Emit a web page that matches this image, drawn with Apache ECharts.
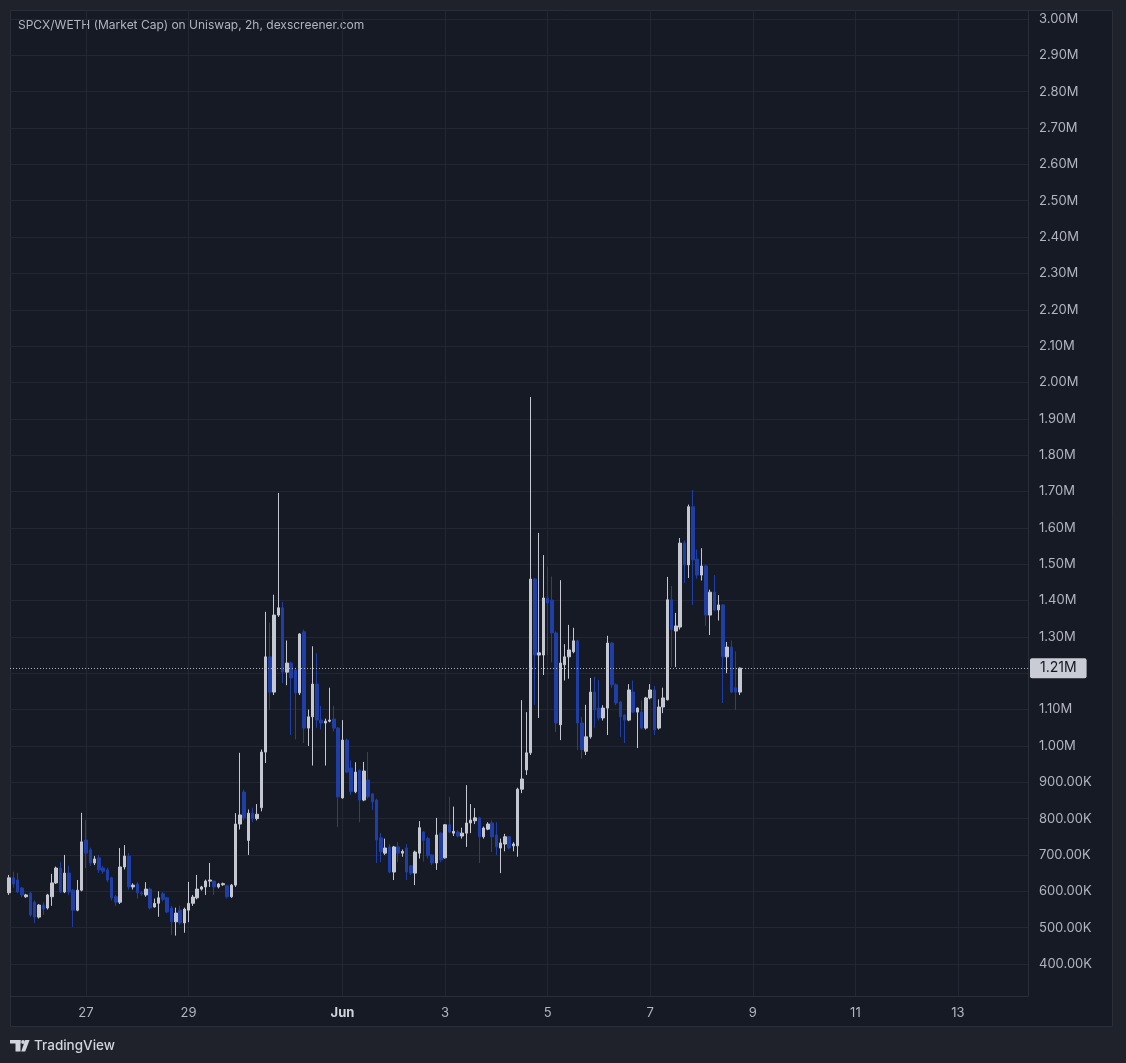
<!DOCTYPE html>
<html>
<head>
<meta charset="utf-8">
<script src="https://cdn.jsdelivr.net/npm/echarts@6/dist/echarts.min.js"></script>
<style>
html,body{margin:0;padding:0;background:#1f222b;}
#chart{width:1126px;height:1063px;}
</style>
</head>
<body>
<div id="chart"></div>
<script>
// ---- Data (market cap in thousands USD), 2h candles ----
const chartTitle = 'SPCX/WETH (Market Cap) on Uniswap, 2h, dexscreener.com';
const firstCandleDay = 25.5;      // May 25, 12:00 on a "day of May" scale (Jun 1 = 32)
const candleStepDays = 2 / 24;    // 2h candles

const opensK = [
  596,637,631,609,585,595,570,529,562,554,
  585,623,664,598,650,603,548,603,741,714,
  678,692,664,659,637,585,570,667,697,612,
  620,596,590,606,557,567,593,582,554,516,
  548,513,548,567,582,606,612,628,628,612,
  618,615,585,617,785,873,740,815,800,830,
  983,1245,1148,1360,1380,1203,1228,1209,1146,1314,
  1049,1080,1170,1071,1063,1068,1074,1049,857,1016,
  939,874,933,851,906,868,851,747,705,722,
  653,722,705,719,670,650,705,763,745,700,
  678,760,692,783,760,763,752,760,788,794,
  802,750,771,788,755,719,730,750,725,725,
  881,934,981,1459,1250,1250,1407,1401,1311,1058,
  1223,1245,1259,1289,1063,985,1025,1148,1104,1077,
  1104,1283,1168,1121,1085,1071,1148,1093,1093,1049,
  1132,1154,1049,1107,1127,1402,1316,1327,1558,1498,
  1658,1514,1470,1495,1360,1423,1374,1388,1245,1272,
  1160,1148
];
const closesK = [
  637,620,598,590,590,535,529,562,551,590,
  623,664,598,650,598,548,603,736,705,678,
  689,659,655,631,582,570,667,697,612,617,
  596,593,606,554,567,582,578,543,516,540,
  513,551,567,584,606,612,628,631,612,620,
  621,585,617,785,810,802,815,800,812,983,
  1245,1148,1360,1380,1203,1228,1187,1146,1308,1049,
  1080,1170,1071,1063,1068,1071,1049,860,1016,928,
  874,928,851,931,860,846,741,709,719,653,
  722,705,710,653,650,708,775,740,698,678,
  755,686,783,763,765,752,760,788,796,802,
  750,774,785,750,722,733,750,719,730,881,
  909,981,1459,1250,1256,1407,1393,1311,1063,1228,
  1245,1264,1289,1063,990,1025,1148,1099,1077,1104,
  1283,1168,1118,1080,1071,1154,1093,1104,1049,1132,
  1154,1044,1107,1132,1402,1320,1330,1558,1498,1658,
  1512,1470,1495,1360,1423,1374,1388,1245,1272,1148,
  1148,1214
];
const lowsK = [
  590,610,596,584,582,530,513,525,535,550,
  560,620,595,595,590,502,545,600,664,670,
  672,650,648,625,575,560,565,660,605,605,
  580,588,585,550,555,530,572,540,480,478,
  508,486,515,560,578,602,590,612,590,608,
  615,580,582,612,770,795,700,790,795,820,
  953,1100,1140,1355,1173,1167,1030,1018,1140,1008,
  1000,946,1050,1045,946,1065,1040,777,855,925,
  865,870,790,848,855,824,678,680,700,650,
  631,680,695,631,645,617,690,682,690,672,
  659,680,690,760,752,748,745,722,760,785,
  678,745,768,708,700,650,710,715,710,695,
  870,920,975,1113,1077,1195,1250,1230,1038,1016,
  1180,1185,1255,989,965,975,1020,1050,1070,1070,
  1030,1160,1112,1025,1008,1068,1090,994,1045,1045,
  1128,1030,1045,1090,1125,1217,1217,1320,1448,1462,
  1388,1460,1455,1330,1305,1370,1345,1118,1200,1145,
  1099,1140
];
const highsK = [
  645,654,651,612,593,598,575,565,570,593,
  648,668,680,700,670,606,631,816,796,720,
  697,700,670,665,640,590,719,727,705,622,
  625,600,625,610,580,600,598,585,560,555,
  560,555,626,590,645,615,632,678,630,623,
  624,618,620,815,981,880,825,830,840,990,
  1369,1339,1416,1696,1396,1290,1232,1215,1310,1320,
  1100,1274,1255,1110,1075,1160,1110,1052,1071,1020,
  960,955,935,956,983,870,855,760,745,730,
  725,735,715,730,672,712,793,765,750,702,
  802,762,785,860,833,768,775,892,840,829,
  805,778,790,795,790,745,758,752,735,885,
  1126,1093,1960,1462,1586,1525,1492,1466,1315,1456,
  1280,1333,1325,1292,1080,1113,1187,1190,1181,1112,
  1303,1285,1172,1123,1087,1170,1180,1106,1125,1135,
  1170,1165,1128,1160,1465,1440,1366,1572,1565,1664,
  1704,1540,1544,1498,1430,1470,1415,1390,1286,1290,
  1260,1216
];

// axis ticks
const dayTicks = [27, 29, 32, 34, 36, 38, 40, 42, 44];
const dayTickLabels = ['27', '29', 'Jun', '3', '5', '7', '9', '11', '13'];
const priceGridK = [400,500,600,700,800,900,1000,1100,1200,1300,1400,1500,1600,1700,1800,1900,2000,2100,2200,2300,2400,2500,2600,2700,2800,2900,3000];
const priceLabelK = [400,500,600,700,800,900,1000,1100,1300,1400,1500,1600,1700,1800,1900,2000,2100,2200,2300,2400,2500,2600,2700,2800,2900,3000];

// ---- Build ----
const candles = opensK.map((o, i) => [
  firstCandleDay + i * candleStepDays,
  o * 1000, closesK[i] * 1000, lowsK[i] * 1000, highsK[i] * 1000
]);
const lastClose = closesK[closesK.length - 1] * 1000;

function fmtCap(v) {
  return v >= 1e6 ? (v / 1e6).toFixed(2) + 'M' : (v / 1e3).toFixed(2) + 'K';
}

const FONT = 'Inter, "Noto Sans", "Liberation Sans", sans-serif';
const UP = '#c5c8d0';
const DOWN = '#1f3fa6';
const GRID = '#232733';
const BORDER = '#2a2e39';
const TXT = '#b2b5be';
const OUTER = '#1f222b';

const chart = echarts.init(document.getElementById('chart'), null, {renderer: 'canvas'});
chart.setOption({
  animation: false,
  backgroundColor: '#161a25',
  textStyle: {fontFamily: FONT},
  grid: {left: 10, right: 98, top: 10, bottom: 67, containLabel: false},
  xAxis: {
    type: 'value',
    min: 25.518,
    max: 45.365,
    axisLine: {show: true, lineStyle: {color: BORDER, width: 1}},
    axisTick: {show: false, customValues: dayTicks},
    splitLine: {show: true, lineStyle: {color: GRID, width: 1}},
    axisLabel: {
      customValues: dayTicks,
      margin: 11,
      color: TXT,
      fontSize: 13,
      fontFamily: FONT,
      formatter: function (v) {
        const idx = dayTicks.indexOf(Math.round(v));
        const s = idx >= 0 ? dayTickLabels[idx] : '';
        return s === 'Jun' ? '{b|Jun}' : s;
      },
      rich: {b: {fontWeight: 'bold', color: '#d1d4dc', fontSize: 13, fontFamily: FONT}}
    }
  },
  yAxis: {
    type: 'value',
    position: 'right',
    min: 311900,
    max: 3024800,
    scale: true,
    axisLine: {show: true, lineStyle: {color: BORDER, width: 1}},
    axisTick: {show: false, customValues: priceGridK.map(v => v * 1000)},
    splitLine: {show: true, lineStyle: {color: GRID, width: 1}},
    axisLabel: {
      customValues: priceLabelK.map(v => v * 1000),
      margin: 11,
      color: TXT,
      fontSize: 13,
      fontFamily: FONT,
      align: 'left',
      formatter: fmtCap
    }
  },
  series: [{
    type: 'candlestick',
    data: candles,
    barWidth: 3,
    clip: true,
    silent: true,
    itemStyle: {color: UP, color0: DOWN, borderColor: UP, borderColor0: DOWN, borderWidth: 1},
    markLine: {
      silent: true,
      symbol: ['none', 'none'],
      animation: false,
      lineStyle: {color: '#b2b5be', type: [1, 2], width: 1},
      label: {
        show: true,
        position: 'end',
        distance: 2,
        formatter: function (p) { return fmtCap(p.value); },
        backgroundColor: '#c9ccd4',
        color: '#131722',
        fontSize: 14,
        fontFamily: FONT,
        padding: [3, 10, 3, 10],
        borderRadius: 2
      },
      emphasis: {disabled: true},
      data: [{yAxis: lastClose}]
    }
  }],
  graphic: [
    {type: 'rect', silent: true, shape: {x: 0, y: 0, width: 1126, height: 10}, style: {fill: OUTER}},
    {type: 'rect', silent: true, shape: {x: 0, y: 0, width: 10, height: 1063}, style: {fill: OUTER}},
    {type: 'rect', silent: true, shape: {x: 1113, y: 0, width: 13, height: 1063}, style: {fill: OUTER}},
    {type: 'rect', silent: true, shape: {x: 0, y: 1027, width: 1126, height: 36}, style: {fill: OUTER}},
    {type: 'rect', silent: true, shape: {x: 10.5, y: 10.5, width: 1102, height: 1016}, style: {fill: null, stroke: BORDER, lineWidth: 1}},
    {type: 'text', silent: true, left: 18, top: 19, style: {text: chartTitle, fill: TXT, font: '12px ' + FONT}},
    // TradingView logo
    {type: 'rect', silent: true, shape: {x: 10, y: 1040, width: 10.5, height: 3.5}, style: {fill: '#d1d4dc'}},
    {type: 'rect', silent: true, shape: {x: 15.5, y: 1040, width: 5, height: 11.5}, style: {fill: '#d1d4dc'}},
    {type: 'circle', silent: true, shape: {cx: 23, cy: 1042, r: 1.9}, style: {fill: '#d1d4dc'}},
    {type: 'polygon', silent: true, shape: {points: [[25.2, 1040], [29.6, 1040], [25.2, 1051.5], [21.2, 1051.5]]}, style: {fill: '#d1d4dc'}},
    {type: 'text', silent: true, left: 34, top: 1039, style: {text: 'TradingView', fill: '#d1d4dc', font: '500 13.5px ' + FONT}}
  ]
});
</script>
</body>
</html>
